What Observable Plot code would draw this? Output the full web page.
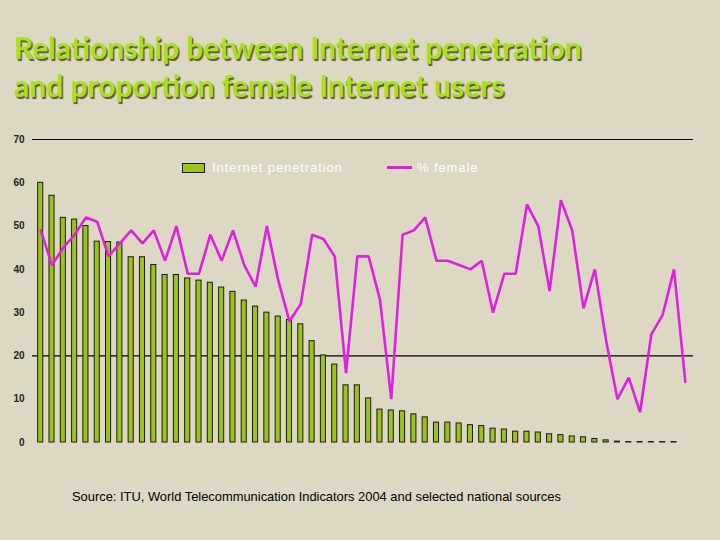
<!DOCTYPE html>
<html>
<head>
<meta charset="utf-8">
<script src="https://cdn.jsdelivr.net/npm/d3@7"></script>
<script src="https://cdn.jsdelivr.net/npm/@observablehq/plot@0.6"></script>
<style>
  html, body { margin: 0; padding: 0; background: #ddd8c4; }
  #page { position: relative; width: 720px; height: 540px; background: #ddd8c4; overflow: hidden; }
  #title { position: absolute; left: 14px; top: 28px; margin: 0; font-family: Lato, "Open Sans", sans-serif; font-weight: 700; font-size: 30px; line-height: 38px; color: #a8e01e; text-shadow: 1.5px 1.5px 1px #5a5a30; white-space: nowrap; }
  #chart { position: absolute; left: 0; top: 110px; }
  .legend { position: absolute; top: 160px; font-family: "Liberation Sans", Arial, sans-serif; font-size: 13px; letter-spacing: 0.9px; color: #ffffff; display: flex; align-items: center; }
  .sw { display: inline-block; width: 21px; height: 8px; background: #9dc31b; border: 1px solid #1a1a1a; margin-right: 7px; }
  .ln { display: inline-block; width: 25px; height: 3px; background: #e020e0; margin-right: 5px; }
  #source { position: absolute; left: 72px; top: 489px; font-family: "Liberation Sans", Arial, sans-serif; font-size: 12.9px; color: #000; }
</style>
</head>
<body>
<div id="page">
  <div id="title">Relationship between Internet penetration<br>and proportion female Internet users</div>
  <div id="chart"></div>
  <div class="legend" style="left:182px;"><span class="sw"></span>Internet penetration</div>
  <div class="legend" style="left:387px;"><span class="ln"></span>% female</div>
  <div id="source">Source: ITU, World Telecommunication Indicators 2004 and selected national sources</div>
</div>
<script>
// Countries (unnamed in the source), ordered by Internet penetration
const countries = d3.range(1, 59).map(i => "C" + i);

// Internet penetration (%)
const penetration = [
  60, 57, 51.9, 51.5, 50, 46.4, 46.3, 46.2, 42.8, 42.8,
  41, 38.7, 38.7, 37.9, 37.4, 36.9, 35.8, 34.8, 32.8, 31.4,
  30, 29.1, 28.3, 27.3, 23.4, 20.1, 18, 13.2, 13.2, 10.2,
  7.6, 7.4, 7.2, 6.5, 5.8, 4.6, 4.6, 4.4, 4, 3.8,
  3.2, 3, 2.5, 2.5, 2.3, 1.9, 1.7, 1.4, 1.2, 0.8,
  0.5, 0.2, 0.1, 0.1, 0.1, 0.1, 0.1, 0
];

// % female Internet users
const female = [
  49, 41, 45, 48, 52, 51, 43, 46, 49, 46,
  49, 42, 50, 39, 39, 48, 42, 49, 41, 36,
  50, 37.5, 28, 32, 48, 47, 43, 16, 43, 43,
  33, 10, 48, 49, 52, 42, 42, 41, 40, 42,
  30, 39, 39, 55, 50, 35, 56, 49, 31, 40,
  23.5, 10, 15, 7, 25, 29.5, 40, 14
];

const yTicks = [0, 10, 20, 30, 40, 50, 60, 70];
const gridValues = [20, 70];

const rows = countries.map((c, i) => ({country: c, penetration: penetration[i], female: female[i]}));

const chart = Plot.plot({
  width: 720,
  height: 430,
  marginTop: 29,
  marginBottom: 98,
  marginLeft: 32,
  marginRight: 27,
  style: {background: "transparent", fontFamily: "'Liberation Sans', Arial, sans-serif"},
  x: {domain: countries, paddingInner: 0.55, paddingOuter: 0.5, round: false, axis: null},
  y: {domain: [0, 70], ticks: yTicks, tickSize: 0, tickPadding: 8, label: null},
  marks: [
    Plot.ruleY(gridValues, {stroke: "#000", strokeWidth: 1.2}),
    Plot.barY(rows, {x: "country", y: "penetration", fill: "#9dc31b", stroke: "#1a1a1a", strokeWidth: 1}),
    Plot.line(rows, {x: "country", y: "female", stroke: "#e020e0", strokeWidth: 2.6, strokeLinejoin: "miter"}),
    Plot.axisY({ticks: yTicks, tickSize: 0, tickPadding: 8, label: null, fontWeight: "bold", fontSize: 10, fill: "#222"})
  ]
});
document.getElementById("chart").appendChild(chart);
</script>
</body>
</html>
